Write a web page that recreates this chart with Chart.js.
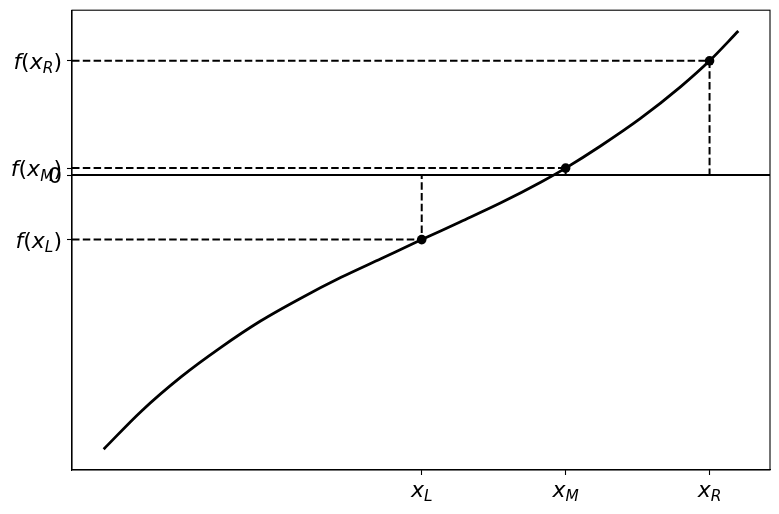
<!DOCTYPE html>
<html>
<head>
<meta charset="utf-8">
<script src="https://cdn.jsdelivr.net/npm/chart.js@4"></script>
<style>
  html, body { margin: 0; padding: 0; background: #fff; }
</style>
</head>
<body>
<canvas id="chart" width="779" height="514"></canvas>
<script>
// curve (xL = 1, xM = 2, xR = 3)
const curveX = [-1.21, -0.95, -0.67, -0.4, -0.12, 0.16, 0.44, 0.72, 1, 1.27, 1.55, 1.83, 2, 2.24, 2.52, 2.8, 3, 3.2];
const curveY = [-2.76, -2.38, -2.03, -1.74, -1.47, -1.24, -1.03, -0.84, -0.65, -0.47, -0.28, -0.07, 0.07, 0.29, 0.57, 0.89, 1.15, 1.45];

const pointX = [1, 2, 3];
const pointY = [-0.65, 0.07, 1.15];

const xTickValues = [1, 2, 3];
const xTickLabels = ["x_L", "x_M", "x_R"];
const yTickValues = [-0.65, 0, 0.07, 1.15];
const yTickLabels = ["f(x_L)", "0", "f(x_M)", "f(x_R)"];

const xMin = -1.43, xMax = 3.42;
const yMin = -2.97, yMax = 1.66;

const FONT = "DejaVu Sans";
const SIZE = 22;

const curve = curveX.map((x, i) => ({ x, y: curveY[i] }));
const points = pointX.map((x, i) => ({ x, y: pointY[i] }));

const dashed = {
    borderColor: "#000",
    borderWidth: 2,
    borderDash: [7.5, 3.3],
    pointRadius: 0,
    showLine: true,
    fill: false,
};

const guideSets = pointX.map((x, i) => ({
    ...dashed,
    data: [{ x: xMin, y: pointY[i] }, { x, y: pointY[i] }, { x, y: 0 }],
}));

// draws "f(x_L)" style labels: letters italic, subscript smaller
function drawMath(ctx, label, x, y, align) {
    const parts = [];
    let i = 0;
    while (i < label.length) {
        const ch = label[i];
        if (ch === "_") {
            parts.push({ t: label[i + 1], sub: true, it: true });
            i += 2;
            continue;
        }
        const italic = /[a-zA-Z]/.test(ch);
        parts.push({ t: ch, sub: false, it: italic });
        i++;
    }
    const fontOf = (p) => (p.it ? "italic " : "") + (p.sub ? SIZE * 0.7 : SIZE) + "px '" + FONT + "'";
    let width = 0;
    parts.forEach(p => {
        ctx.font = fontOf(p);
        p.w = ctx.measureText(p.t).width;
        width += p.w;
    });
    let cx = align === "right" ? x - width : x - width / 2;
    ctx.textAlign = "left";
    ctx.textBaseline = "alphabetic";
    ctx.fillStyle = "#000";
    parts.forEach(p => {
        ctx.font = fontOf(p);
        ctx.fillText(p.t, cx, p.sub ? y + SIZE * 0.2 : y);
        cx += p.w;
    });
}

const mathTicks = {
    id: "mathTicks",
    afterDraw(chart) {
        const ctx = chart.ctx;
        const area = chart.chartArea;
        const xs = chart.scales.x, ys = chart.scales.y;
        ctx.save();
        ctx.strokeStyle = "#000";
        ctx.lineWidth = 1.1;
        ctx.strokeRect(area.left, area.top, area.right - area.left, area.bottom - area.top);
        xTickValues.forEach((v, i) => {
            drawMath(ctx, xTickLabels[i], xs.getPixelForValue(v), area.bottom + 27, "center");
        });
        yTickValues.forEach((v, i) => {
            drawMath(ctx, yTickLabels[i], area.left - 10, ys.getPixelForValue(v) + 8, "right");
        });
        ctx.restore();
    }
};

new Chart(document.getElementById("chart").getContext("2d"), {
    type: "scatter",
    data: {
        datasets: [
            {
                data: curve,
                showLine: true,
                borderColor: "#000",
                borderWidth: 2.8,
                pointRadius: 0,
                cubicInterpolationMode: "monotone",
            },
            {
                data: [{ x: xMin, y: 0 }, { x: xMax, y: 0 }],
                showLine: true,
                borderColor: "#000",
                borderWidth: 2,
                pointRadius: 0,
            },
            ...guideSets,
            {
                data: points,
                showLine: false,
                pointRadius: 4.8,
                pointBackgroundColor: "#000",
                pointBorderColor: "#000",
                pointBorderWidth: 0,
            },
        ],
    },
    options: {
        responsive: false,
        animation: false,
        layout: { padding: { top: 9, right: 9, left: 0, bottom: 0 } },
        plugins: { legend: { display: false }, tooltip: { enabled: false } },
        scales: {
            x: {
                type: "linear",
                min: xMin,
                max: xMax,
                afterBuildTicks: (s) => { s.ticks = xTickValues.map(v => ({ value: v })); },
                afterFit: (s) => { s.height = 44; },
                ticks: { color: "rgba(0,0,0,0)", callback: (v) => xTickLabels[xTickValues.indexOf(v)] },
                grid: { drawOnChartArea: false, tickLength: 5, tickColor: "#000", tickWidth: 1.1 },
                border: { color: "#000", width: 1.1 },
            },
            y: {
                type: "linear",
                min: yMin,
                max: yMax,
                afterBuildTicks: (s) => { s.ticks = yTickValues.map(v => ({ value: v })); },
                afterFit: (s) => { s.width = 72; },
                ticks: { color: "rgba(0,0,0,0)", callback: (v) => yTickLabels[yTickValues.indexOf(v)] },
                grid: { drawOnChartArea: false, tickLength: 5, tickColor: "#000", tickWidth: 1.1 },
                border: { color: "#000", width: 1.1 },
            },
        },
    },
    plugins: [mathTicks],
});
</script>
</body>
</html>
